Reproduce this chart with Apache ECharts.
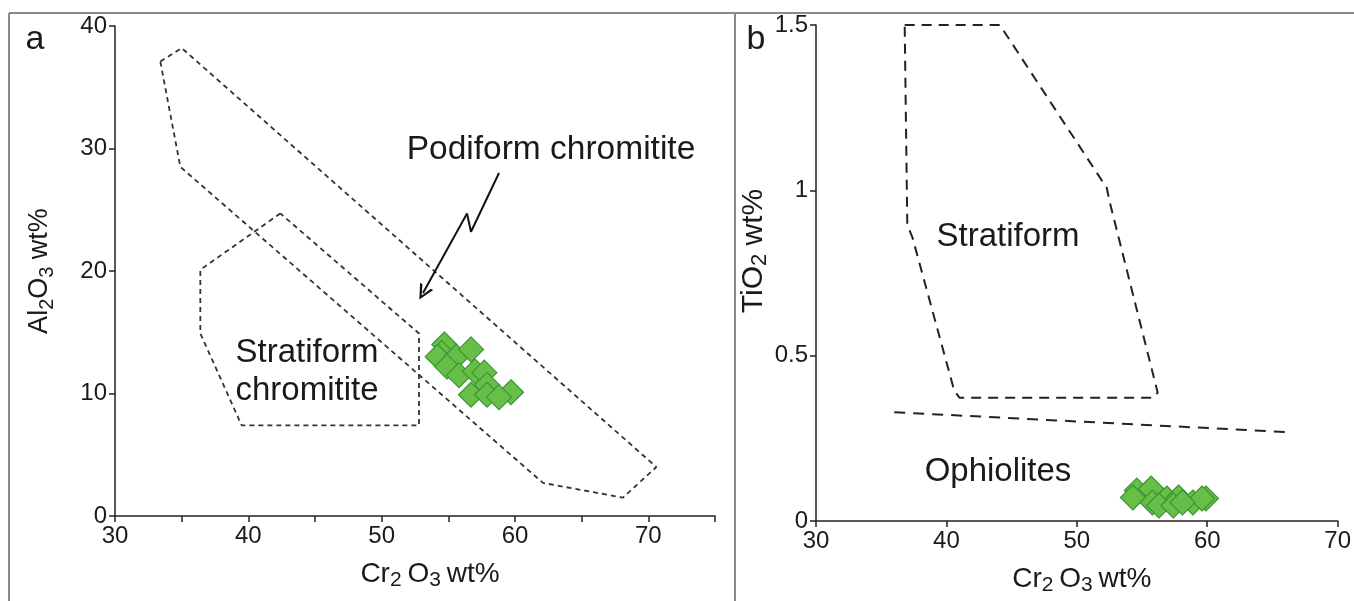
<!DOCTYPE html>
<html>
<head>
<meta charset="utf-8">
<script src="https://cdn.jsdelivr.net/npm/echarts@6/dist/echarts.min.js"></script>
<style>
  html, body { margin: 0; padding: 0; background: #fff; }
  #chart { width: 1354px; height: 601px; }
</style>
</head>
<body>
<div id="chart"></div>
<script>
// ---------- Data (panel a: Al2O3 vs Cr2O3) ----------
const podiformFieldA = [[33.4,37.1],[35.0,38.2],[70.6,4.0],[68.1,1.5],[62.1,2.7],[34.9,28.5],[33.4,37.1]];
const stratiformFieldA = [[42.4,24.7],[36.4,20.1],[36.4,14.9],[39.5,7.4],[52.8,7.4],[52.8,14.9],[42.4,24.7]];
const arrowZigzagA = [[58.8,28.0],[56.7,23.2],[56.4,24.7]];
const arrowHeadSegA = [[56.4,24.7],[53.1,18.2]];
const samplesA = [
  [54.7,14.0],[54.5,13.3],[54.2,13.0],[55.6,13.0],[56.7,13.6],[54.9,12.2],[55.8,11.5],
  [57.0,11.8],[57.7,11.7],[57.9,10.7],[56.7,9.9],[57.9,9.9],[59.7,10.1],[58.8,9.7]
];
// ---------- Data (panel b: TiO2 vs Cr2O3) ----------
const stratiformFieldB = [[36.8,1.5],[44.1,1.5],[52.3,1.007],[52.5,0.968],[56.2,0.388],[55.9,0.373],[41.0,0.373],[40.6,0.394],[37.4,0.857],[37.0,0.896],[36.8,1.5]];
const ophioliteLimitB = [[36.0,0.329],[66.1,0.269]];
const samplesB = [
  [54.6,0.092],[55.7,0.098],[54.3,0.071],[56.9,0.068],[57.8,0.071],[59.9,0.068],
  [55.8,0.056],[56.3,0.047],[57.4,0.047],[58.9,0.056],[59.6,0.068],[58.1,0.056]
];
// ---------- Tick labels ----------
const xTickLabelsA = [30,40,50,60,70];
const yTickLabelsA = [0,10,20,30,40];
const xTickLabelsB = [30,40,50,60,70];
const yTickLabelsB = ['0','0.5','1','1.5'];

const FONT = "'Liberation Sans', Arial, sans-serif";
const INK = '#1a1a1a';
const GREEN = '#68bf47';
const GREEN_EDGE = '#3a9632';

function nameRich(main, sub) {
  return {
    a: { fontSize: main, fontFamily: FONT, color: INK, lineHeight: 34, verticalAlign: 'middle' },
    s: { fontSize: sub, fontFamily: FONT, color: INK, lineHeight: 14, verticalAlign: 'bottom' }
  };
}

function axisBase() {
  return {
    type: 'value',
    axisLine: { show: true, onZero: false, lineStyle: { color: '#222', width: 1.5 } },
    axisTick: { show: true, inside: false, length: 6, lineStyle: { color: '#222', width: 1.5 } },
    splitLine: { show: false },
    nameLocation: 'middle',
    axisLabel: { fontSize: 24, fontFamily: FONT, color: INK, margin: 8 }
  };
}

const chart = echarts.init(document.getElementById('chart'), null, { renderer: 'canvas' });

const option = {
  animation: false,
  backgroundColor: '#fff',
  grid: [
    { left: 115, top: 26, width: 600, height: 490 },
    { left: 816, top: 25, width: 523, height: 502 }
  ],
  xAxis: [
    Object.assign(axisBase(), {
      gridIndex: 0, min: 30, max: 75, interval: 5,
      name: '{a|Cr}{s|2 }{a|O}{s|3 }{a|wt%}', nameGap: 41,
      nameTextStyle: { rich: nameRich(28, 21), padding: [0, 0, 0, 30] },
      axisLabel: Object.assign(axisBase().axisLabel, {
        formatter: v => (xTickLabelsA.indexOf(v) >= 0 ? String(v) : '')
      })
    }),
    Object.assign(axisBase(), {
      gridIndex: 1, min: 30, max: 70, interval: 10,
      name: '{a|Cr}{s|2 }{a|O}{s|3 }{a|wt%}', nameGap: 41,
      nameTextStyle: { rich: nameRich(28, 21), padding: [0, 0, 0, 10] },
      axisLabel: Object.assign(axisBase().axisLabel, {
        formatter: v => (xTickLabelsB.indexOf(v) >= 0 ? String(v) : '')
      })
    })
  ],
  yAxis: [
    Object.assign(axisBase(), {
      gridIndex: 0, min: 0, max: 40, interval: 10,
      name: '{a|Al}{s|2}{a|O}{s|3}{a| wt%}', nameGap: 58, nameRotate: 90,
      nameTextStyle: { rich: nameRich(27, 20), padding: [0, 0, 0, 0] },
      axisLabel: Object.assign(axisBase().axisLabel, {
        formatter: v => (yTickLabelsA.indexOf(v) >= 0 ? String(v) : '')
      })
    }),
    Object.assign(axisBase(), {
      gridIndex: 1, min: 0, max: 1.5, interval: 0.5,
      name: '{a|TiO}{s|2}{a| wt%}', nameGap: 41, nameRotate: 90,
      nameTextStyle: { rich: nameRich(30, 22), padding: [0, 0, 0, 44] },
      axisLabel: Object.assign(axisBase().axisLabel, {
        formatter: v => { const s = String(v); return yTickLabelsB.indexOf(s) >= 0 ? s : ''; }
      })
    })
  ],
  series: [
    { type: 'line', xAxisIndex: 0, yAxisIndex: 0, data: podiformFieldA, showSymbol: false, symbol: 'none',
      lineStyle: { color: '#333', width: 1.8, type: [5, 4] }, z: 2 },
    { type: 'line', xAxisIndex: 0, yAxisIndex: 0, data: stratiformFieldA, showSymbol: false, symbol: 'none',
      lineStyle: { color: '#333', width: 1.8, type: [5, 4] }, z: 2 },
    { type: 'line', xAxisIndex: 0, yAxisIndex: 0, data: arrowZigzagA, showSymbol: false, symbol: 'none',
      lineStyle: { color: '#111', width: 2, type: 'solid' }, z: 3 },
    { type: 'lines', coordinateSystem: 'cartesian2d', xAxisIndex: 0, yAxisIndex: 0,
      data: [{ coords: arrowHeadSegA }],
      symbol: ['none', 'path://M5,0 L10,10 L8.2,10 L5,3.2 L1.8,10 L0,10 Z'], symbolSize: [13, 15],
      lineStyle: { color: '#111', width: 2, curveness: 0, opacity: 1 }, z: 3 },
    { type: 'scatter', xAxisIndex: 0, yAxisIndex: 0, data: samplesA, symbol: 'diamond', symbolSize: 25,
      itemStyle: { color: GREEN, borderColor: GREEN_EDGE, borderWidth: 1.2, opacity: 1 }, z: 4 },
    { type: 'line', xAxisIndex: 1, yAxisIndex: 1, data: stratiformFieldB, showSymbol: false, symbol: 'none',
      lineStyle: { color: '#222', width: 2, type: [10, 7] }, z: 2 },
    { type: 'line', xAxisIndex: 1, yAxisIndex: 1, data: ophioliteLimitB, showSymbol: false, symbol: 'none',
      lineStyle: { color: '#222', width: 2, type: [11, 8] }, z: 2 },
    { type: 'scatter', xAxisIndex: 1, yAxisIndex: 1, data: samplesB, symbol: 'diamond', symbolSize: 25,
      itemStyle: { color: GREEN, borderColor: GREEN_EDGE, borderWidth: 1.2, opacity: 1 }, z: 4 }
  ],
  graphic: [
    { type: 'line', shape: { x1: 9, y1: 13, x2: 1354, y2: 13 }, style: { stroke: '#8a8a8a', lineWidth: 2 } },
    { type: 'line', shape: { x1: 9, y1: 13, x2: 9, y2: 601 }, style: { stroke: '#8a8a8a', lineWidth: 2 } },
    { type: 'line', shape: { x1: 735, y1: 13, x2: 735, y2: 601 }, style: { stroke: '#8a8a8a', lineWidth: 2 } },
    { type: 'text', x: 35, y: 40, style: { text: 'a', fontSize: 34, fontFamily: FONT, fill: INK, textAlign: 'center', textVerticalAlign: 'middle' } },
    { type: 'text', x: 756, y: 40, style: { text: 'b', fontSize: 34, fontFamily: FONT, fill: INK, textAlign: 'center', textVerticalAlign: 'middle' } },
    { type: 'text', x: 551, y: 150, style: { text: 'Podiform chromitite', fontSize: 33.5, fontFamily: FONT, fill: INK, textAlign: 'center', textVerticalAlign: 'middle' } },
    { type: 'text', x: 307, y: 353, style: { text: 'Stratiform', fontSize: 33, fontFamily: FONT, fill: INK, textAlign: 'center', textVerticalAlign: 'middle' } },
    { type: 'text', x: 307, y: 391, style: { text: 'chromitite', fontSize: 33, fontFamily: FONT, fill: INK, textAlign: 'center', textVerticalAlign: 'middle' } },
    { type: 'text', x: 1008, y: 237, style: { text: 'Stratiform', fontSize: 33, fontFamily: FONT, fill: INK, textAlign: 'center', textVerticalAlign: 'middle' } },
    { type: 'text', x: 998, y: 472, style: { text: 'Ophiolites', fontSize: 33, fontFamily: FONT, fill: INK, textAlign: 'center', textVerticalAlign: 'middle' } }
  ]
};

chart.setOption(option);
</script>
</body>
</html>
